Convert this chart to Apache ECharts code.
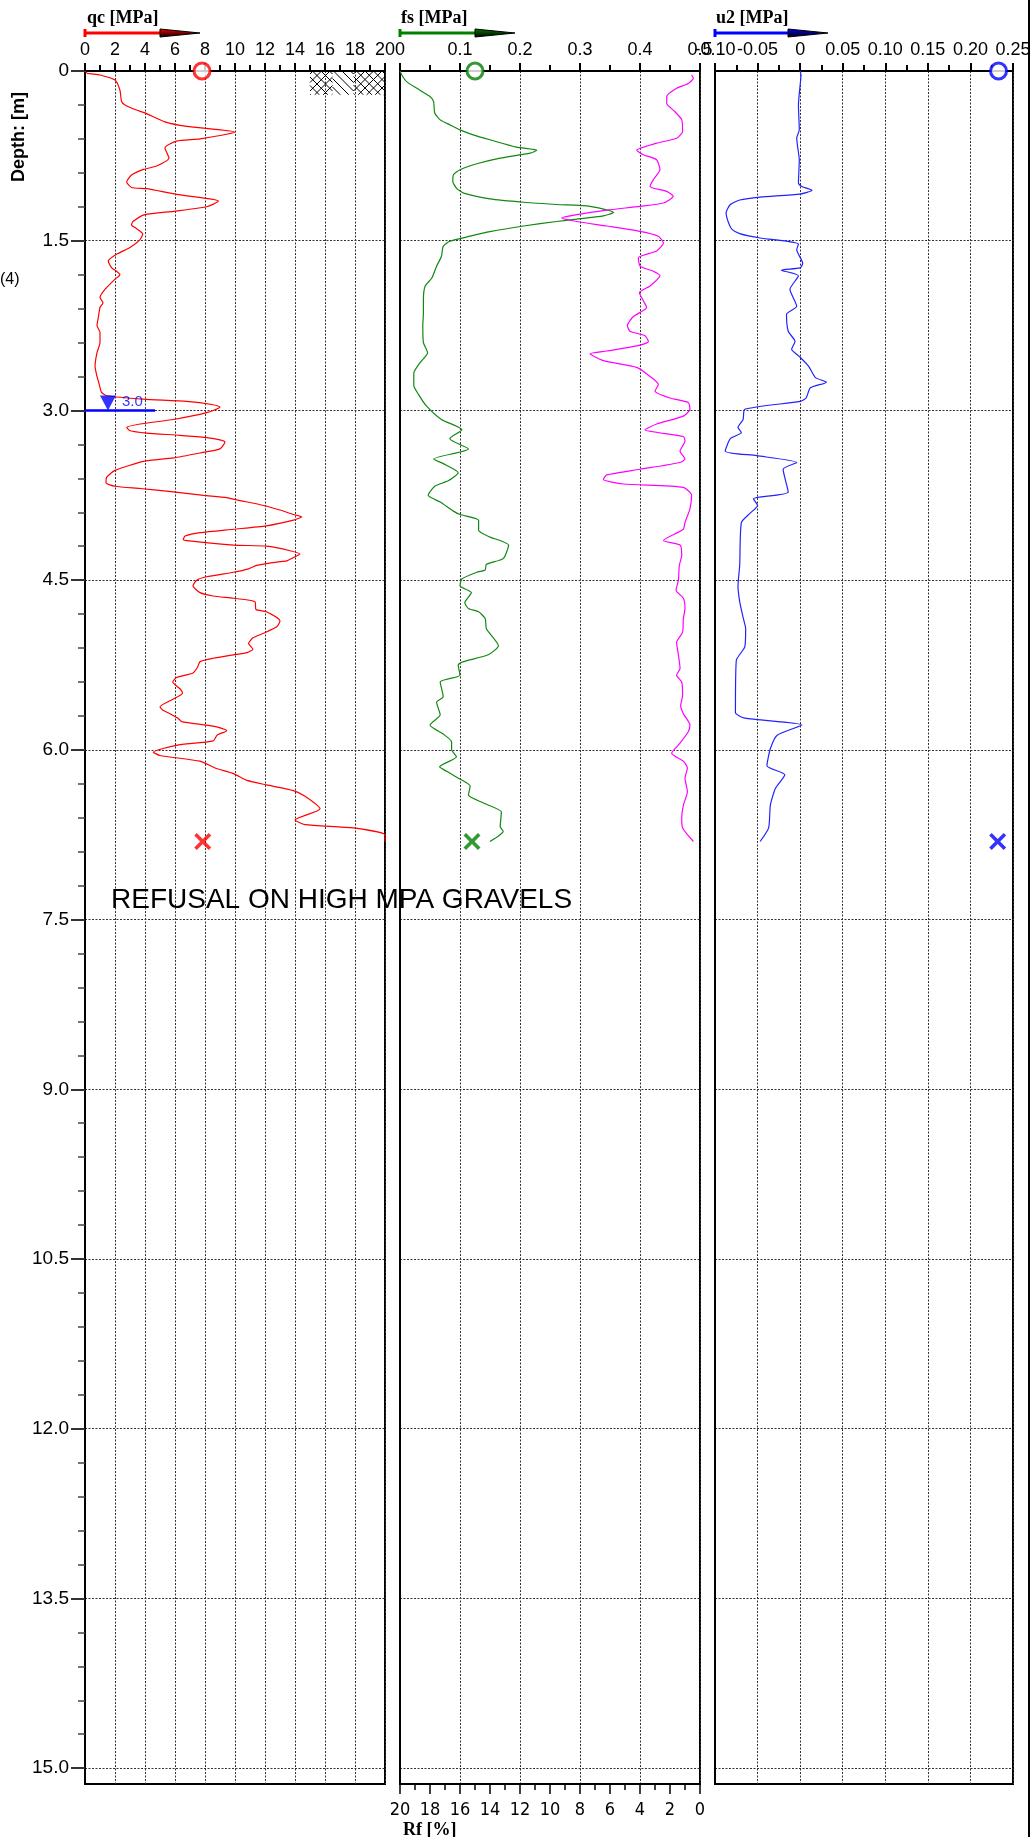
<!DOCTYPE html>
<html><head><meta charset="utf-8">
<script src="https://cdn.jsdelivr.net/npm/echarts@6/dist/echarts.min.js"></script>
<style>html,body{margin:0;padding:0;background:#fff}#c{width:1034px;height:1837px}</style>
</head><body><div id="c"></div>
<script>
// ---------------- DATA ----------------
const depthTicks = [0, 1.5, 3.0, 4.5, 6.0, 7.5, 9.0, 10.5, 12.0, 13.5, 15.0];
const depthMax = 15.14;
const qcRange = [0, 20];
const fsRange = [0, 0.5];
const u2Range = [-0.1, 0.25];
const rfRange = [0, 20];

const qcDepth = [0.00,0.02,0.035,0.08,0.17,0.27,0.30,0.34,0.37,0.45,0.49,0.54,0.60,0.62,0.68,0.77,0.84,0.87,0.92,0.98,1.03,1.04,1.09,1.13,1.15,1.20,1.24,1.27,1.33,1.36,1.39,1.44,1.49,1.56,1.62,1.68,1.74,1.77,1.80,1.84,1.93,2.00,2.05,2.09,2.17,2.25,2.31,2.40,2.49,2.61,2.70,2.77,2.84,2.87,2.90,2.92,2.95,2.97,3.02,3.08,3.12,3.15,3.18,3.20,3.22,3.24,3.26,3.28,3.34,3.37,3.42,3.45,3.53,3.59,3.64,3.67,3.69,3.72,3.75,3.77,3.79,3.84,3.88,3.92,3.94,3.97,4.02,4.05,4.08,4.11,4.14,4.15,4.19,4.20,4.24,4.27,4.30,4.33,4.34,4.37,4.40,4.43,4.47,4.50,4.55,4.61,4.64,4.66,4.69,4.76,4.78,4.86,4.91,4.97,5.01,5.06,5.11,5.14,5.16,5.19,5.22,5.27,5.32,5.36,5.40,5.46,5.50,5.55,5.62,5.65,5.68,5.72,5.75,5.79,5.83,5.87,5.92,5.96,6.02,6.05,6.10,6.16,6.21,6.27,6.31,6.36,6.41,6.52,6.62,6.66,6.69,6.75,6.81];
const qcValue = [0.0,0.15,1.0,2.0,2.33,2.44,2.67,3.33,4.0,5.33,6.78,10.0,7.67,6.1,5.33,5.6,4.78,3.9,3.1,2.78,3.1,4.1,6.1,8.33,8.9,8.1,5.9,4.0,3.2,3.1,3.4,3.85,3.67,3.0,2.1,1.55,1.78,2.1,2.33,2.0,1.33,1.0,1.2,1.0,0.9,0.8,1.0,1.0,0.8,0.67,0.8,0.95,1.1,1.45,3.9,6.78,8.55,9.0,8.1,5.9,3.67,2.78,3.0,4.1,6.33,8.1,9.0,9.33,9.0,7.9,5.9,3.9,2.0,1.45,1.4,2.0,3.67,5.9,7.9,9.45,10.1,11.9,13.0,13.9,14.45,13.9,12.1,9.9,7.67,6.67,6.55,6.8,9.9,12.1,13.67,14.33,13.9,13.45,12.8,11.45,10.9,9.9,8.1,7.45,7.2,7.67,8.55,9.9,11.33,11.4,12.1,13.0,12.8,11.9,11.2,10.9,11.2,10.8,9.9,8.55,7.67,7.5,7.2,6.1,5.85,6.33,6.5,5.9,5.0,5.2,5.67,6.2,6.45,8.55,9.45,8.8,8.55,6.1,4.55,5.0,7.67,8.67,9.9,10.8,12.1,13.9,14.67,15.67,14.0,14.67,17.9,20.0,20.0];

const fsDepth = [0.00,0.035,0.094,0.153,0.226,0.27,0.373,0.432,0.476,0.52,0.564,0.608,0.673,0.70,0.726,0.77,0.82,0.873,0.917,0.976,1.035,1.079,1.13,1.16,1.18,1.196,1.25,1.28,1.31,1.33,1.37,1.42,1.46,1.505,1.55,1.64,1.725,1.83,1.90,2.02,2.14,2.25,2.40,2.49,2.58,2.67,2.78,2.86,2.96,3.08,3.17,3.25,3.34,3.43,3.47,3.55,3.62,3.67,3.75,3.81,3.89,3.92,3.97,4.06,4.12,4.15,4.19,4.31,4.36,4.41,4.43,4.49,4.55,4.61,4.70,4.75,4.78,4.84,4.93,5.08,5.16,5.22,5.25,5.34,5.40,5.53,5.58,5.69,5.78,5.86,5.93,6.00,6.06,6.15,6.19,6.25,6.32,6.40,6.47,6.55,6.68,6.72,6.81];
const fsValue = [0.0,0.003,0.011,0.028,0.05,0.056,0.058,0.067,0.083,0.10,0.122,0.15,0.194,0.228,0.217,0.167,0.128,0.10,0.089,0.088,0.094,0.106,0.15,0.206,0.261,0.317,0.356,0.339,0.294,0.261,0.206,0.15,0.117,0.083,0.072,0.069,0.061,0.053,0.042,0.039,0.039,0.038,0.039,0.046,0.033,0.023,0.023,0.031,0.044,0.069,0.103,0.083,0.114,0.056,0.072,0.097,0.081,0.058,0.047,0.067,0.089,0.10,0.131,0.131,0.15,0.167,0.181,0.172,0.144,0.142,0.128,0.103,0.10,0.119,0.108,0.114,0.131,0.142,0.144,0.164,0.147,0.106,0.097,0.10,0.067,0.072,0.061,0.067,0.05,0.072,0.086,0.086,0.094,0.066,0.078,0.097,0.117,0.114,0.139,0.169,0.167,0.172,0.15];

const rfDepth = [0.035,0.065,0.11,0.153,0.226,0.285,0.36,0.43,0.535,0.594,0.638,0.70,0.74,0.785,0.873,0.96,1.02,1.064,1.108,1.167,1.196,1.23,1.27,1.30,1.33,1.37,1.417,1.46,1.52,1.59,1.65,1.725,1.77,1.81,1.90,1.96,2.03,2.09,2.17,2.25,2.30,2.34,2.39,2.43,2.475,2.50,2.56,2.62,2.70,2.77,2.83,2.89,2.93,2.99,3.05,3.12,3.17,3.23,3.27,3.36,3.43,3.46,3.52,3.57,3.61,3.65,3.68,3.75,3.87,3.99,4.05,4.15,4.19,4.28,4.37,4.50,4.59,4.66,4.75,4.84,4.96,5.05,5.16,5.28,5.34,5.40,5.52,5.61,5.68,5.78,5.84,5.94,6.03,6.10,6.16,6.25,6.37,6.49,6.60,6.69,6.81];
const rfValue = [0.56,0.44,0.78,1.56,2.22,2.22,1.67,1.22,1.16,1.56,2.89,4.22,3.78,2.89,2.67,3.11,3.33,2.22,1.78,2.44,4.0,6.22,8.22,9.22,8.22,6.22,4.0,2.78,2.44,2.89,4.11,4.0,3.11,2.67,3.33,4.04,3.78,3.56,4.44,4.84,4.67,3.67,3.44,4.22,6.22,7.33,6.44,4.22,3.33,2.78,3.0,2.0,0.78,0.67,1.11,2.89,3.67,1.11,1.0,1.33,1.0,1.33,4.0,6.22,6.44,5.11,1.11,0.56,0.67,1.0,1.11,2.44,1.33,1.22,1.38,1.44,1.6,1.11,1.0,1.11,1.16,1.56,1.44,1.33,1.56,1.22,1.16,1.29,1.11,0.67,0.78,1.33,1.89,1.11,0.84,1.0,0.84,1.11,1.22,1.16,0.44];

const u2Depth = [0.00,0.035,0.197,0.30,0.52,0.594,0.667,0.785,0.99,1.02,1.055,1.088,1.114,1.14,1.18,1.255,1.343,1.40,1.437,1.476,1.505,1.53,1.58,1.70,1.74,1.76,1.81,1.93,2.08,2.15,2.30,2.39,2.46,2.53,2.61,2.71,2.75,2.80,2.89,2.92,2.99,3.08,3.15,3.195,3.25,3.36,3.40,3.46,3.52,3.72,3.78,3.84,3.91,3.99,4.37,4.55,4.69,4.83,4.93,5.09,5.21,5.67,5.72,5.78,5.87,5.99,6.14,6.22,6.34,6.49,6.69,6.81];
const u2Value = [0.0,0.001,-0.001,-0.002,-0.001,-0.004,-0.003,-0.001,-0.002,0.002,0.014,0.0,-0.047,-0.071,-0.082,-0.087,-0.084,-0.080,-0.071,-0.047,-0.016,-0.002,-0.004,0.003,0.0,-0.022,-0.002,-0.012,-0.004,-0.016,-0.014,-0.006,-0.010,0.0,0.010,0.018,0.031,0.012,0.007,0.0,-0.065,-0.067,-0.073,-0.069,-0.082,-0.088,-0.051,-0.004,-0.020,-0.014,-0.055,-0.050,-0.059,-0.069,-0.071,-0.073,-0.071,-0.067,-0.064,-0.065,-0.075,-0.076,-0.065,0.002,-0.027,-0.035,-0.039,-0.018,-0.029,-0.035,-0.037,-0.047];

// start (circle) and end (cross) markers: [value, depth]
const qcMarkers = [[7.8, 0], [7.85, 6.81]];
const fsMarkers = [[0.125, 0], [0.12, 6.81]];
const u2Markers = [[0.233, 0], [0.232, 6.81]];
const waterTableDepth = 3.0;
const waterTableLine = [0, 4.67];
const waterTableMarkerQc = 1.53;
// soil symbol hatching [qcFrom, qcTo, depthFrom, depthTo, crossed]
const hatchRegions = [[15, 16.5, 0, 0.21, 1], [16.5, 17.9, 0, 0.21, 0], [17.9, 20, 0, 0.21, 1]];
const refusalText = 'REFUSAL ON HIGH MPA GRAVELS';

// ---------------- CHART ----------------
const SANS = 'Liberation Sans';
const SERIF = 'Liberation Serif';
const NARROW = "'Liberation Sans Narrow', 'DejaVu Sans Condensed', 'Liberation Sans', sans-serif";
const zip = (d, v) => d.map((dd, i) => [v[i], dd]);
const minorDepth = [];
for (let i = 1; i * 0.3 < 15.1; i++) { if (i % 5) minorDepth.push(+(i * 0.3).toFixed(2)); }

const gridDash = { color: '#333', type: [2, 1.5], width: 1 };
function grid(left, width) {
  return { left, top: 71, width, height: 1713, show: true, borderColor: '#000', borderWidth: 2,
           backgroundColor: 'transparent', outerBoundsMode: 'none', containLabel: false };
}
function depthAxis(gi, labels) {
  return {
    type: 'value', gridIndex: gi, inverse: true, min: 0, max: depthMax, interval: 1.5, position: 'left',
    axisLine: { show: true, onZero: false, lineStyle: { color: '#000', width: 2 } },
    axisTick: { show: labels, length: 14, customValues: depthTicks, lineStyle: { color: '#333', width: 2 } },
    minorTick: { show: false },
    axisLabel: { show: labels, customValues: depthTicks, margin: 16, fontSize: 19, fontFamily: SANS, color: '#000',
                 formatter: v => (v === 0 ? '0' : v.toFixed(1)) },
    splitLine: { show: true, lineStyle: gridDash }
  };
}
function topAxis(gi, range, interval, fmt) {
  return {
    type: 'value', gridIndex: gi, position: 'top', min: range[0], max: range[1], interval,
    axisLine: { show: true, onZero: false, lineStyle: { color: '#000', width: 2 } },
    axisTick: { show: true, inside: false, length: 8, lineStyle: { color: '#000', width: 2 } },
    minorTick: { show: true, splitNumber: 2, length: 6, lineStyle: { color: '#000', width: 2 } },
    axisLabel: { show: true, margin: 12, fontSize: 18, fontFamily: SANS, color: '#000', interval: 0,
                 showMinLabel: true, showMaxLabel: true, hideOverlap: false, formatter: fmt },
    splitLine: { show: true, lineStyle: gridDash }
  };
}

const chart = echarts.init(document.getElementById('c'), null, { renderer: 'canvas' });

function hatchRender(params, api) {
  const p0 = api.coord([api.value(0), api.value(2)]);
  const p1 = api.coord([api.value(1), api.value(3)]);
  const xa = Math.min(p0[0], p1[0]), xb = Math.max(p0[0], p1[0]);
  const ya = Math.min(p0[1], p1[1]), yb = Math.max(p0[1], p1[1]);
  const step = 8.5, children = [];
  const st = { stroke: '#000', lineWidth: 1 };
  for (let c = ya - xb + 3; c <= yb - xa; c += step) {
    const lo = Math.max(xa, ya - c), hi = Math.min(xb, yb - c);
    if (hi > lo) children.push({ type: 'line', shape: { x1: lo, y1: lo + c, x2: hi, y2: hi + c }, style: st });
  }
  if (api.value(4) === 1) {
    for (let c = xa + ya + 3; c <= xb + yb; c += step) {
      const lo = Math.max(xa, c - yb), hi = Math.min(xb, c - ya);
      if (hi > lo) children.push({ type: 'line', shape: { x1: lo, y1: c - lo, x2: hi, y2: c - hi }, style: st });
    }
  }
  return { type: 'group', children };
}

const crossPath = 'path://M1.5,0 L5,3.5 L8.5,0 L10,1.5 L6.5,5 L10,8.5 L8.5,10 L5,6.5 L1.5,10 L0,8.5 L3.5,5 L0,1.5 Z';
function markers(xi, yi, data, color) {
  return [
    { type: 'scatter', xAxisIndex: xi, yAxisIndex: yi, clip: false, z: 5, silent: true,
      data: [data[0]], symbol: 'circle', symbolSize: 16,
      itemStyle: { color: '#fff', borderColor: color, borderWidth: 3 } },
    { type: 'scatter', xAxisIndex: xi, yAxisIndex: yi, clip: false, z: 5, silent: true,
      data: [data[1]], symbol: crossPath, symbolSize: 17, itemStyle: { color: color } }
  ];
}
function lineSeries(xi, yi, d, v, color) {
  return { type: 'line', xAxisIndex: xi, yAxisIndex: yi, data: zip(d, v), showSymbol: false, symbol: 'none',
           smooth: 0.2, lineStyle: { color, width: 1.2 }, z: 3, silent: true, animation: false };
}

function arrow(x0, len, color) {
  const y = 33, wx = x0 + len - 40, ex = x0 + len;
  return [
    { type: 'line', shape: { x1: x0, y1: y, x2: wx + 5, y2: y }, style: { stroke: color, lineWidth: 3 } },
    { type: 'line', shape: { x1: x0, y1: y - 4, x2: x0, y2: y + 4 }, style: { stroke: color, lineWidth: 3 } },
    { type: 'polygon', shape: { points: [[wx, y - 4], [wx, y + 4], [ex, y]] },
      style: { fill: new echarts.graphic.LinearGradient(0, 0, 0, 1, [{ offset: 0, color: color }, { offset: 1, color: '#000' }]),
               stroke: '#000', lineWidth: 1 } }
  ];
}
function txt(props, style) {
  return Object.assign({ type: 'text' }, props, { style: Object.assign({ fill: '#000' }, style) });
}

const option = {
  animation: false,
  backgroundColor: '#fff',
  grid: [grid(85, 300), grid(400, 300), grid(715, 298)],
  xAxis: [
    topAxis(0, qcRange, 2),
    topAxis(1, fsRange, 0.1, v => (Math.abs(v) < 1e-9 ? '0' : String(+v.toFixed(2)))),
    topAxis(2, u2Range, 0.05, v => (Math.abs(v) < 1e-9 ? '0' : v.toFixed(2))),
    {
      type: 'value', gridIndex: 1, position: 'bottom', inverse: true, min: rfRange[0], max: rfRange[1], interval: 2,
      axisLine: { show: true, onZero: false, lineStyle: { color: '#000', width: 2 } },
      axisTick: { show: true, inside: false, length: 10, lineStyle: { color: '#000', width: 1.5 } },
      minorTick: { show: true, splitNumber: 2, length: 6, lineStyle: { color: '#000', width: 1.5 } },
      axisLabel: { show: true, margin: 17, fontSize: 18, fontFamily: NARROW, color: '#000', interval: 0,
                   showMinLabel: true, showMaxLabel: true },
      splitLine: { show: false }
    }
  ],
  yAxis: [
    depthAxis(0, true), depthAxis(1, false), depthAxis(2, false),
    { type: 'value', gridIndex: 0, inverse: true, min: 0, max: depthMax, interval: 0.3, position: 'left',
      axisLine: { show: false, onZero: false }, axisLabel: { show: false }, splitLine: { show: false },
      axisTick: { show: true, length: 7, customValues: minorDepth, lineStyle: { color: '#444', width: 1.5 } } }
  ],
  series: [
    { type: 'custom', xAxisIndex: 0, yAxisIndex: 0, renderItem: hatchRender, data: hatchRegions,
      encode: { x: [0, 1], y: [2, 3] }, z: 2, silent: true, clip: true },
    lineSeries(0, 0, qcDepth, qcValue, '#ff0000'),
    ...markers(0, 0, qcMarkers, '#ff0000'),
    { type: 'line', xAxisIndex: 0, yAxisIndex: 0, data: waterTableLine.map(v => [v, waterTableDepth]),
      showSymbol: false, symbol: 'none', lineStyle: { color: '#0000ff', width: 2.5 }, z: 4, silent: true },
    { type: 'scatter', xAxisIndex: 0, yAxisIndex: 0, clip: false, z: 5, silent: true,
      data: [[waterTableMarkerQc, waterTableDepth]], symbol: 'triangle', symbolRotate: 180,
      symbolSize: [16, 15], symbolOffset: [0, -7.5], itemStyle: { color: '#0000ff' },
      label: { show: true, position: 'right', distance: 6, offset: [0, -1], formatter: waterTableDepth.toFixed(1),
               color: '#0000ff', fontSize: 15, fontFamily: SANS } },
    lineSeries(1, 1, fsDepth, fsValue, '#118811'),
    lineSeries(3, 1, rfDepth, rfValue, '#ff00ff'),
    ...markers(1, 1, fsMarkers, '#008000'),
    lineSeries(2, 2, u2Depth, u2Value, '#2222ff'),
    ...markers(2, 2, u2Markers, '#0000ff')
  ],
  graphic: [
    txt({ left: 87, top: 9 }, { text: 'qc [MPa]', fontFamily: SERIF, fontWeight: 'bold', fontSize: 18 }),
    txt({ left: 401, top: 9 }, { text: 'fs [MPa]', fontFamily: SERIF, fontWeight: 'bold', fontSize: 18 }),
    txt({ left: 716, top: 9 }, { text: 'u2 [MPa]', fontFamily: SERIF, fontWeight: 'bold', fontSize: 18 }),
    { type: 'group', children: [...arrow(85, 115, '#ff0000'), ...arrow(400, 115, '#008000'), ...arrow(715, 113, '#0000ff')] },
    txt({ x: 19, y: 137, rotation: Math.PI / 2 },
        { text: 'Depth: [m]', fontFamily: SANS, fontWeight: 'bold', fontSize: 18, align: 'center', verticalAlign: 'middle' }),
    txt({ x: 0, y: 280 }, { text: '(4)', fontFamily: SANS, fontSize: 16, verticalAlign: 'middle' }),
    txt({ x: 403, y: 1830 }, { text: 'Rf [%]', fontFamily: SERIF, fontWeight: 'bold', fontSize: 18, verticalAlign: 'middle' }),
    txt({ x: 111, y: 900, z: 100 }, { text: refusalText, fontFamily: SANS, fontSize: 28, verticalAlign: 'middle' }),
    { type: 'line', shape: { x1: 1029, y1: 0, x2: 1029, y2: 1837 }, style: { stroke: '#000', lineWidth: 2 } }
  ]
};
chart.setOption(option);
</script></body></html>
